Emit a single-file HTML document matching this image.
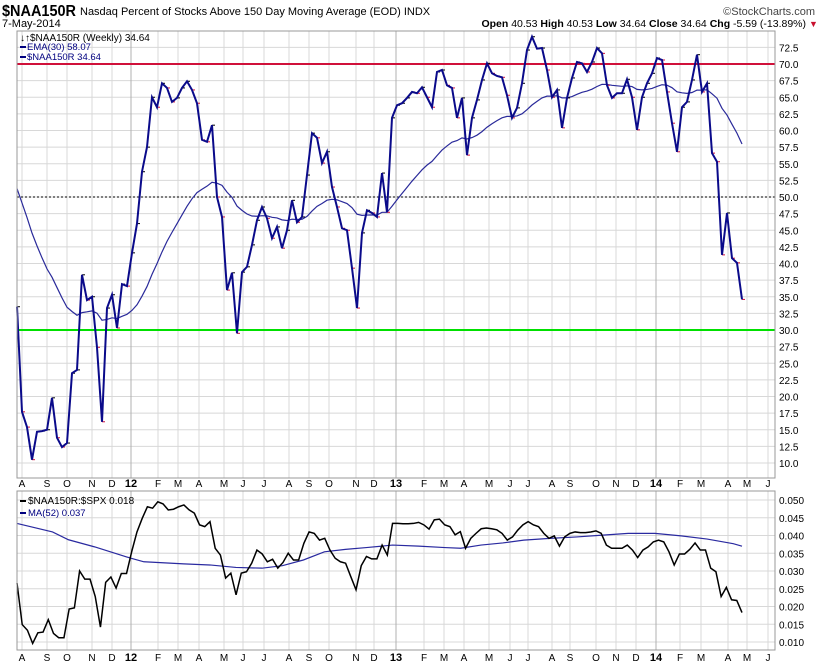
<!DOCTYPE html>
<html><head><meta charset="utf-8">
<style>
body{margin:0;background:#fff;font-family:"Liberation Sans",sans-serif;}
svg{display:block}
text{font-family:"Liberation Sans",sans-serif;}
</style></head>
<body>
<svg id="chart" width="820" height="668" viewBox="0 0 820 668" xmlns="http://www.w3.org/2000/svg">
<rect width="820" height="668" fill="#fff"/>
<text x="2" y="16" font-size="16" font-weight="bold" textLength="74" lengthAdjust="spacingAndGlyphs">$NAA150R</text>
<text x="80" y="15" font-size="11">Nasdaq Percent of Stocks Above 150 Day Moving Average (EOD)  INDX</text>
<text x="815" y="15" font-size="11" fill="#444" text-anchor="end">©StockCharts.com</text>
<text x="2" y="27" font-size="11">7-May-2014</text>
<text x="806" y="27" font-size="10.5" text-anchor="end"><tspan font-weight="bold">Open</tspan> 40.53 <tspan font-weight="bold">High</tspan> 40.53 <tspan font-weight="bold">Low</tspan> 34.64 <tspan font-weight="bold">Close</tspan> 34.64 <tspan font-weight="bold">Chg</tspan> -5.59 (-13.89%)</text>
<text x="809" y="27" font-size="9" fill="#c8102e">▼</text>
<g id="grid"></g>
<g id="marks"></g>
<rect x="17" y="31" width="758" height="447" fill="none" stroke="#999"/>
<rect x="17" y="491" width="758" height="159" fill="none" stroke="#999"/>
<text x="20" y="41" font-size="10">↓↑$NAA150R (Weekly) 34.64</text>
<rect x="20" y="46" width="6" height="2" fill="#000080"/>
<text x="27" y="50" font-size="9.5" fill="#000080">EMA(30) 58.07</text>
<rect x="20" y="56" width="6" height="2" fill="#000080"/>
<text x="27" y="60" font-size="9.5" fill="#000080">$NAA150R 34.64</text>
<rect x="20" y="500" width="6" height="2" fill="#000"/>
<text x="28" y="504" font-size="10">$NAA150R:$SPX 0.018</text>
<rect x="20" y="512" width="6" height="2" fill="#000080"/>
<text x="28" y="516" font-size="9.5" fill="#000080">MA(52) 0.037</text>
</svg>
<script>
const closes=[33.5,17.7,15.4,10.5,14.7,14.8,15,19.8,13.8,12.4,13,23.5,24,38.3,34.5,35,27.4,16.2,33.3,35.3,30.3,36.9,36.6,41.6,46,53.8,57.5,65,63.5,67.1,66.4,64.3,64.9,66.4,67.4,66.1,64.1,58.6,58.3,60.8,
50,47,36,38.6,29.5,38.7,39.5,42.8,46.5,48.5,46.8,43.8,45.5,42.3,45,49.5,46.2,47,53.3,59.6,58.9,55.1,56.8,51.5,48.5,45.3,45,39.3,33.3,44.6,48,47.6,47,53.6,47.7,61.9,63.8,64.1,64.9,
65.8,65.6,66.5,65,63.5,68.8,69.1,66.8,66.4,61.9,64.9,56.3,61.9,64.6,67.6,70.1,68.6,68.2,68,65.3,61.9,63.4,67.1,72.1,74.1,72.3,72.4,69.1,65,66.1,60.4,64.9,67.9,70.3,70.1,68.8,70.3,72.4,
71.6,66.8,64.9,65.6,65.6,67.7,65,60.1,65,67.1,68.6,70.9,70.6,65.8,61.1,56.8,63.5,64.3,67.6,71.4,65.8,67.1,56.6,55.3,41.3,47.6,40.8,40.1,34.6];
const ratio=[0.0266,0.0149,0.0133,0.0096,0.0126,0.0128,0.0163,0.0124,0.0112,0.0112,0.0193,0.0196,0.030,0.0277,0.0277,0.0228,0.0142,0.0268,0.0283,0.0252,0.0293,0.0293,0.0355,0.041,0.0448,0.0481,0.0477,0.0495,0.0489,0.0472,0.0474,0.0481,0.0486,0.0472,0.0463,0.043,0.0425,0.0439,0.0364,0.0345,0.028,0.0294,0.0233,0.0294,0.0298,0.0322,0.0359,0.0348,0.0326,0.0333,0.0308,0.0324,0.035,0.0331,0.0331,0.0378,0.041,0.0406,0.0387,0.0392,0.0359,0.0336,0.0326,0.0322,0.0284,0.0247,0.0315,0.0341,0.0334,0.0334,0.0373,0.0345,0.0434,0.0434,0.0433,0.0433,0.0434,0.0437,0.043,0.0418,0.0444,0.0446,0.043,0.0425,0.0402,0.0411,0.0364,0.0392,0.0406,0.0419,0.0421,0.0419,0.0416,0.0406,0.0387,0.0396,0.0415,0.043,0.0439,0.043,0.0425,0.0406,0.0392,0.0399,0.037,0.0396,0.0406,0.041,0.0408,0.0408,0.041,0.0413,0.0406,0.0373,0.0364,0.0364,0.0364,0.0373,0.0359,0.0338,0.0359,0.0368,0.0382,0.0387,0.0382,0.0354,0.0317,0.0348,0.0348,0.0361,0.0379,0.0359,0.0359,0.0308,0.0298,0.0228,0.0254,0.0219,0.0217,0.0183];
const ma52=[0.0434,0.041,0.0388,0.0368,0.0336,0.0326,0.032,0.0317,0.031,0.0308,0.0315,0.0331,0.0354,0.0361,0.0366,0.0373,0.037,0.0366,0.0364,0.0373,0.0379,0.0387,0.0392,0.0396,0.0401,0.0406,0.0406,0.0399,0.039,0.0377,0.037];
const maFrac=[0,0.049,0.071,0.107,0.157,0.175,0.23,0.266,0.302,0.338,0.366,0.395,0.424,0.453,0.482,0.518,0.554,0.59,0.612,0.64,0.67,0.699,0.735,0.772,0.808,0.843,0.88,0.916,0.952,0.988,1];
const monthLabels=["A","S","O","N","D","12","F","M","A","M","J","J","A","S","O","N","D","13","F","M","A","M","J","J","A","S","O","N","D","14","F","M","A","M","J"];
const monthPos=[22,47,67,92,112,131,158,178,199,224,243,264,289,309,329,356,374,396,424,444,464,489,510,528,552,570,596,616,636,656,680,701,728,747,768];
const mainTicks=[10,12.5,15,17.5,20,22.5,25,27.5,30,32.5,35,37.5,40,42.5,45,47.5,50,52.5,55,57.5,60,62.5,65,67.5,70,72.5];
const lowTicks=[0.010,0.015,0.020,0.025,0.030,0.035,0.040,0.045,0.050];
const emaSeed=52.5;

const NS="http://www.w3.org/2000/svg";
const yMain=v=>64+(70-v)*6.65;
const yLow=v=>500+(0.05-v)/0.04*142;
const xIdx=(i,n)=>17+i*725/(n-1);
const grid=document.getElementById('grid'),marks=document.getElementById('marks');
function mk(tag,attrs,parent){const e=document.createElementNS(NS,tag);for(const k in attrs)e.setAttribute(k,attrs[k]);parent.appendChild(e);return e;}

mainTicks.forEach(t=>{
  const y=yMain(t);
  const l=mk('line',{x1:17,x2:775,y1:y,y2:y,stroke:'#d8d8d8'},grid);
  
  
  const tx=mk('text',{x:779,y:y+4,'font-size':10},grid);tx.textContent=t.toFixed(1);
  
  
});
lowTicks.forEach(t=>{
  const y=yLow(t);
  const l=mk('line',{x1:17,x2:775,y1:y,y2:y,stroke:'#d8d8d8'},grid);
  
  
  const tx=mk('text',{x:779,y:y+4,'font-size':10},grid);tx.textContent=t.toFixed(3);
  
  
});
monthLabels.forEach((m,i)=>{
  const x=monthPos[i];const yr=/\d/.test(m);
  [[31,478],[491,650]].forEach(([a,b])=>{
    const l=mk('line',{x1:x,x2:x,y1:a,y2:b,stroke:yr?'#b0b0b0':'#d8d8d8'},grid);
    
    
  });
  [487,661].forEach(y=>{
    const t=mk('text',{x:x,y:y,'font-size':yr?11:10,'font-weight':yr?'bold':'normal','text-anchor':'middle'},grid);t.textContent=m;
    
    
  });
});
let r=mk('line',{x1:17,x2:775,y1:yMain(50),y2:yMain(50),stroke:'#000','stroke-dasharray':'2,2'},marks);


r=mk('line',{x1:17,x2:775,y1:yMain(70),y2:yMain(70),stroke:'#d0103a','stroke-width':2},marks);


r=mk('line',{x1:17,x2:775,y1:yMain(30),y2:yMain(30),stroke:'#00e000','stroke-width':2},marks);


let e=emaSeed;const k=2/31;const emaPts=[];
closes.forEach((c,i)=>{e=c*k+e*(1-k);emaPts.push(xIdx(i,closes.length)+','+yMain(e));});
let p=mk('polyline',{points:emaPts.join(' '),fill:'none',stroke:'#2a2a9a','stroke-width':1.2},marks);


closes.forEach((c,i)=>{
  const x=xIdx(i,closes.length);const up=i===0||c>=closes[i-1];
  const t=mk('line',{x1:x,x2:x+3,y1:yMain(c),y2:yMain(c),stroke:up?'#000':'#d0103a'},marks);
  
  
});
p=mk('polyline',{points:closes.map((c,i)=>xIdx(i,closes.length)+','+yMain(c)).join(' '),fill:'none',stroke:'#0a0a8a','stroke-width':2},marks);


p=mk('polyline',{points:ma52.map((v,i)=>(17+maFrac[i]*725)+','+yLow(v)).join(' '),fill:'none',stroke:'#2a2aa0','stroke-width':1.2},marks);


p=mk('polyline',{points:ratio.map((v,i)=>xIdx(i,ratio.length)+','+yLow(v)).join(' '),fill:'none',stroke:'#000','stroke-width':1.5},marks);


</script>
</body></html>
